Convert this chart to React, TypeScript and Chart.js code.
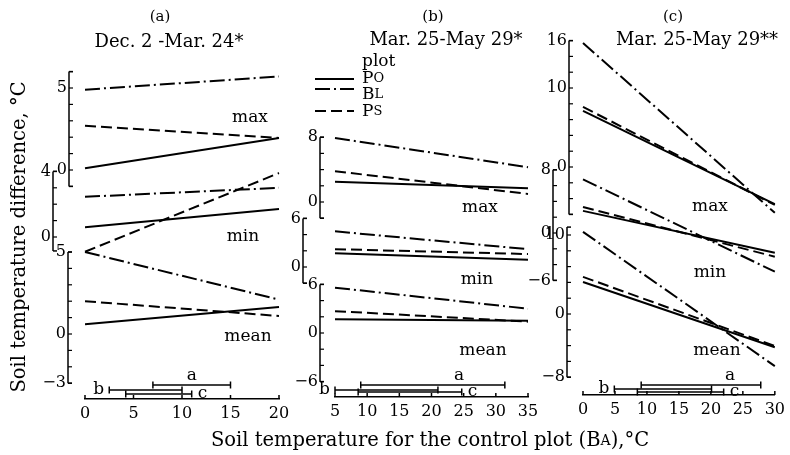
import React, { useEffect, useRef } from "react";
import { Chart, registerables } from "chart.js";

Chart.register(...registerables);

const SERIF = '"DejaVu Serif", "Liberation Serif", serif';

// ---------------- data ----------------
// order of series inside a group: Po (solid), Bl (dash-dot), Ps (dashed)
// Panel (a): Dec. 2 - Mar. 24
const xA = [0, 20];
const maxPoA = [0.1, 1.95];
const maxBlA = [4.9, 5.7];
const maxPsA = [2.7, 1.95];
const minPoA = [0.6, 1.7];
const minBlA = [2.45, 3.0];
const minPsA = [-0.9, 3.9];
const meanPoA = [0.6, 1.65];
const meanBlA = [5.0, 2.1];
const meanPsA = [2.0, 1.1];
const rangesA = [[7, 15], [2.5, 10], [4.2, 11]]; // a, b, c

// Panel (b): Mar. 25 - May 29 *
const xB = [5, 35];
const maxPoB = [2.5, 1.7];
const maxBlB = [7.9, 4.3];
const maxPsB = [3.8, 1.0];
const minPoB = [1.7, 0.9];
const minBlB = [4.4, 2.2];
const minPsB = [2.2, 1.6];
const meanPoB = [1.7, 1.5];
const meanBlB = [5.6, 3.0];
const meanPsB = [2.7, 1.4];
const rangesB = [[9, 31.4], [5, 21], [8.6, 24.7]];

// Panel (c): Mar. 25 - May 29 **
const xC = [0, 30];
const maxPoC = [7.1, -4.7];
const maxBlC = [15.7, -5.8];
const maxPsC = [7.6, -4.8];
const minPoC = [2.8, -2.5];
const minBlC = [6.8, -4.9];
const minPsC = [3.3, -3.0];
const meanPoC = [4.05, -4.2];
const meanBlC = [10.4, -6.6];
const meanPsC = [4.7, -4.05];
const rangesC = [[9.1, 27.8], [4.9, 20.1], [8.5, 22]];

const rangeNames = ["a", "b", "c"];
const plotNames = [["P", "O"], ["B", "L"], ["P", "S"]];

// ---------------- styles / layout ----------------
const DASHES = [[], [15, 4, 2, 4], [11, 5]];
const GROUPS = ["max", "min", "mean"];

type Axis = { x: number; zero: number; unit: number; lo: number; hi: number; step: number; labels: number[] };

const PANELS: any[] = [
  {
    title: "(a)", subtitle: "Dec. 2 -Mar. 24*", xMin: 0, xMax: 20, xs: xA,
    groups: { max: [maxPoA, maxBlA, maxPsA], min: [minPoA, minBlA, minPsA], mean: [meanPoA, meanBlA, meanPsA] },
    ranges: rangesA,
  },
  {
    title: "(b)", subtitle: "Mar. 25-May 29*", xMin: 5, xMax: 35, xs: xB,
    groups: { max: [maxPoB, maxBlB, maxPsB], min: [minPoB, minBlB, minPsB], mean: [meanPoB, meanBlB, meanPsB] },
    ranges: rangesB,
  },
  {
    title: "(c)", subtitle: "Mar. 25-May 29**", xMin: 0, xMax: 30, xs: xC,
    groups: { max: [maxPoC, maxBlC, maxPsC], min: [minPoC, minBlC, minPsC], mean: [meanPoC, meanBlC, meanPsC] },
    ranges: rangesC,
  },
];

const LAYOUT: any[] = [
  {
    left: 85, right: 279, bottom: 399, rows: [14, 9, 5], aLabelX: 11,
    axes: {
      max: { x: 69, zero: 170, unit: 16.4, lo: -1, hi: 6, step: 1, labels: [0, 5] },
      min: { x: 53, zero: 237, unit: 16.4, lo: -0.85, hi: 4, step: 1, labels: [0, 4] },
      mean: { x: 68, zero: 334, unit: 16.4, lo: -3, hi: 5, step: 1, labels: [-3, 0, 5] },
    },
    groupLabels: { max: [250, 118], min: [243, 237], mean: [248, 337] },
    titleX: 160, subX: 169, subY: 42,
  },
  {
    left: 335, right: 528, bottom: 397, rows: [12, 7, 5], aLabelX: 24.3,
    axes: {
      max: { x: 320, zero: 202, unit: 8.1, lo: -2, hi: 8, step: 2, labels: [0, 8] },
      min: { x: 303, zero: 267, unit: 8.1, lo: -2, hi: 6, step: 2, labels: [0, 6] },
      mean: { x: 320, zero: 333, unit: 8.1, lo: -6, hi: 6, step: 2, labels: [-6, 0, 6] },
    },
    groupLabels: { max: [480, 208], min: [477, 280], mean: [483, 351] },
    titleX: 433, subX: 446, subY: 40,
  },
  {
    left: 583, right: 777, bottom: 395, rows: [10, 6, 3], aLabelX: 23,
    axes: {
      max: { x: 569, zero: 167, unit: 7.9, lo: -6, hi: 16, step: 2, labels: [0, 10, 16] },
      min: { x: 553, zero: 233, unit: 7.9, lo: -6, hi: 8, step: 2, labels: [-6, 0, 8] },
      mean: { x: 567, zero: 314, unit: 7.9, lo: -8, hi: 11, step: 2, labels: [-8, 0, 10] },
    },
    groupLabels: { max: [710, 207], min: [710, 273], mean: [717, 351] },
    titleX: 673, subX: 697, subY: 40,
  },
];

const TOP = 30;
const AXIS_H = 28;

function fmt(v: number) {
  return v < 0 ? "\u2212" + Math.abs(v) : String(v);
}

function font(size: number) {
  return `${size}px ${SERIF}`;
}

function drawParts(ctx: CanvasRenderingContext2D, parts: [string, number][], x: number, y: number, align: "left" | "center") {
  let total = 0;
  for (const [t, s] of parts) {
    ctx.font = font(s);
    total += ctx.measureText(t).width;
  }
  let cx = align === "center" ? x - total / 2 : x;
  ctx.textAlign = "left";
  for (const [t, s] of parts) {
    ctx.font = font(s);
    ctx.fillText(t, cx, y);
    cx += ctx.measureText(t).width;
  }
}

function line(ctx: CanvasRenderingContext2D, x1: number, y1: number, x2: number, y2: number) {
  ctx.beginPath();
  ctx.moveTo(x1, y1);
  ctx.lineTo(x2, y2);
  ctx.stroke();
}

function drawLegend(ctx: CanvasRenderingContext2D) {
  ctx.fillStyle = "#000";
  ctx.textBaseline = "middle";
  ctx.font = font(17);
  ctx.textAlign = "left";
  ctx.fillText("plot", 362, 62);
  const ys = [79, 89, 111];
  const ty = [79, 95, 112];
  ys.forEach((y, i) => {
    ctx.save();
    ctx.lineWidth = 2;
    ctx.setLineDash(DASHES[i]);
    line(ctx, 315, y, 354, y);
    ctx.restore();
    drawParts(ctx, [[plotNames[i][0], 17], [plotNames[i][1], 13]], 362, ty[i], "left");
  });
}

function drawGlobalTitles(ctx: CanvasRenderingContext2D) {
  ctx.fillStyle = "#000";
  ctx.textBaseline = "middle";
  ctx.save();
  ctx.translate(20, 237);
  ctx.rotate(-Math.PI / 2);
  ctx.font = font(19.5);
  ctx.textAlign = "center";
  ctx.fillText("Soil temperature difference, \u00b0C", 0, 0);
  ctx.restore();
  drawParts(
    ctx,
    [["Soil temperature for the control plot (B", 19.5], ["A", 14], ["),\u00b0C", 19.5]],
    430, 441, "center"
  );
}

function buildChart(canvas: HTMLCanvasElement, p: any, L: any, extra?: (ctx: CanvasRenderingContext2D) => void) {
  const scales: any = {
    x: {
      type: "linear", min: p.xMin, max: p.xMax, position: "bottom",
      afterFit: (s: any) => { s.height = AXIS_H; },
      grid: { display: false, drawTicks: false },
      border: { display: true, color: "#000", width: 1.5 },
      ticks: { stepSize: 5, color: "#000", font: { family: SERIF, size: 16 }, padding: 5, maxRotation: 0, autoSkip: false },
    },
    yr: { type: "linear", display: false, min: 0, max: L.bottom - TOP },
  };
  for (const g of GROUPS) {
    const ax: Axis = L.axes[g];
    scales["y_" + g] = {
      type: "linear", display: false,
      min: (ax.zero - L.bottom) / ax.unit,
      max: (ax.zero - TOP) / ax.unit,
    };
  }
  const datasets: any[] = [];
  GROUPS.forEach((g) =>
    p.groups[g].forEach((vals: number[], i: number) =>
      datasets.push({
        data: p.xs.map((x: number, j: number) => ({ x, y: vals[j] })),
        yAxisID: "y_" + g,
        borderColor: "#000", borderWidth: 2, borderDash: DASHES[i],
        pointRadius: 0, fill: false, tension: 0, clip: false,
      })
    )
  );
  p.ranges.forEach((r: number[], i: number) =>
    datasets.push({
      data: [{ x: r[0], y: L.rows[i] }, { x: r[1], y: L.rows[i] }],
      yAxisID: "yr",
      borderColor: "#000", borderWidth: 1.5,
      pointStyle: "line", pointRotation: 90, pointRadius: 3.5,
      pointBorderWidth: 1.5, pointBorderColor: "#000", pointBackgroundColor: "#000",
      fill: false, clip: false,
    })
  );

  const deco = {
    id: "deco",
    afterDraw(chart: any) {
      const ctx: CanvasRenderingContext2D = chart.ctx;
      ctx.save();
      ctx.strokeStyle = "#000";
      ctx.fillStyle = "#000";
      ctx.lineWidth = 1.5;
      const xs = chart.scales.x;
      const yb = chart.chartArea.bottom;
      xs.ticks.forEach((t: any) => {
        const px = xs.getPixelForValue(t.value);
        line(ctx, px, yb, px, yb - 4);
      });
      ctx.textBaseline = "middle";
      for (const g of GROUPS) {
        const ax: Axis = L.axes[g];
        const ys = chart.scales["y_" + g];
        const yTop = ys.getPixelForValue(ax.hi);
        const yBot = ys.getPixelForValue(ax.lo);
        ctx.lineWidth = 1.5;
        line(ctx, ax.x, yTop, ax.x, yBot);
        line(ctx, ax.x, yTop, ax.x + 4, yTop);
        line(ctx, ax.x, yBot, ax.x + 4, yBot);
        ctx.lineWidth = 1.2;
        for (let v = Math.ceil(ax.lo / ax.step) * ax.step; v <= ax.hi + 1e-9; v += ax.step) {
          const py = ys.getPixelForValue(v);
          line(ctx, ax.x, py, ax.x + 4, py);
        }
        ctx.font = font(16);
        ctx.textAlign = "right";
        for (const v of ax.labels) {
          ctx.fillText(fmt(v), ax.x - 2, ys.getPixelForValue(v));
        }
        ctx.font = font(17);
        ctx.textAlign = "center";
        const [gx, gy] = L.groupLabels[g];
        ctx.fillText(g, gx, gy);
      }
      const yr = chart.scales.yr;
      ctx.font = font(17);
      ctx.textAlign = "center";
      ctx.fillText(rangeNames[0], xs.getPixelForValue(L.aLabelX), yr.getPixelForValue(L.rows[0]) - 9);
      ctx.textAlign = "right";
      ctx.fillText(rangeNames[1], xs.getPixelForValue(p.ranges[1][0]) - 5, yr.getPixelForValue(L.rows[1]));
      ctx.textAlign = "left";
      ctx.fillText(rangeNames[2], xs.getPixelForValue(p.ranges[2][1]) + 6, yr.getPixelForValue(L.rows[2]));
      ctx.textAlign = "center";
      ctx.font = font(15);
      ctx.fillText(p.title, L.titleX, 17);
      ctx.font = font(18);
      ctx.fillText(p.subtitle, L.subX, L.subY);
      if (extra) extra(ctx);
      ctx.restore();
    },
  };

  return new Chart(canvas, {
    type: "line",
    data: { datasets },
    options: {
      animation: false,
      responsive: false,
      devicePixelRatio: 1,
      events: [],
      layout: { padding: { left: L.left, right: 790 - L.right, top: TOP, bottom: 455 - L.bottom - AXIS_H } },
      plugins: { legend: { display: false }, tooltip: { enabled: false }, title: { display: false } },
      scales,
    },
    plugins: [deco],
  } as any);
}

export default function App() {
  const refA = useRef<HTMLCanvasElement>(null);
  const refB = useRef<HTMLCanvasElement>(null);
  const refC = useRef<HTMLCanvasElement>(null);

  useEffect(() => {
    const charts = [
      buildChart(refA.current!, PANELS[0], LAYOUT[0], drawGlobalTitles),
      buildChart(refB.current!, PANELS[1], LAYOUT[1], drawLegend),
      buildChart(refC.current!, PANELS[2], LAYOUT[2]),
    ];
    return () => charts.forEach((c) => c.destroy());
  }, []);

  const cs: React.CSSProperties = { position: "absolute", left: 0, top: 0, width: 790, height: 455 };
  return (
    <div style={{ position: "absolute", left: 0, top: 0, width: 790, height: 455, background: "#fff" }}>
      <canvas ref={refA} width={790} height={455} style={cs} />
      <canvas ref={refB} width={790} height={455} style={cs} />
      <canvas ref={refC} width={790} height={455} style={cs} />
    </div>
  );
}
